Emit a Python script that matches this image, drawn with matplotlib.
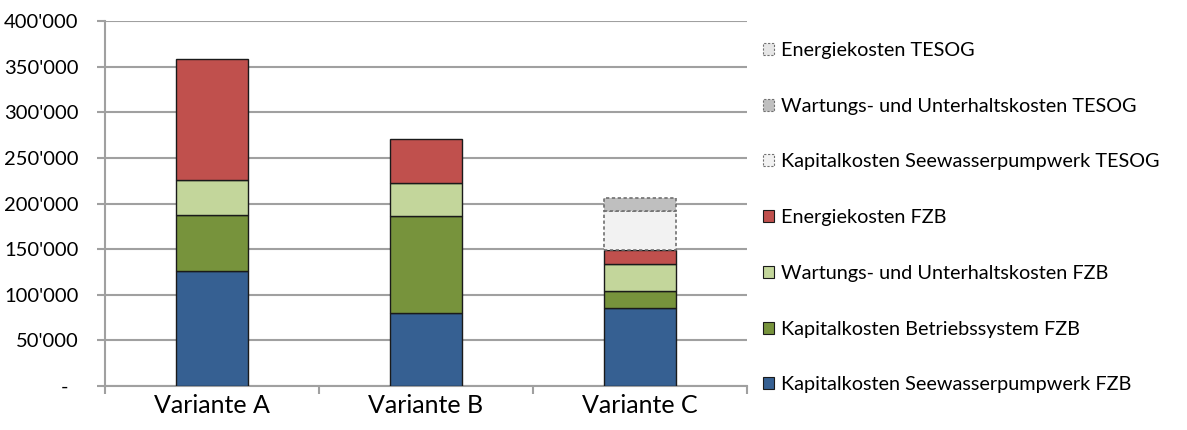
import matplotlib.pyplot as plt
import numpy as np
from matplotlib.patches import Patch
from matplotlib.ticker import FuncFormatter, FixedLocator

plt.rcParams['font.family'] = ['Lato', 'DejaVu Sans']

# data (CHF per year)
variants = ['Variante A', 'Variante B', 'Variante C']
kap_see_fzb = [126400, 79600, 85100]
kap_betrieb_fzb = [61000, 107100, 18600]
wartung_fzb = [38400, 35300, 29600]
energie_fzb = [132600, 48700, 15700]
kap_see_tesog = [0, 0, 42800]
wartung_tesog = [0, 0, 13900]
energie_tesog = [0, 0, 0]

labels = [
    'Kapitalkosten Seewasserpumpwerk FZB',
    'Kapitalkosten Betriebssystem FZB',
    'Wartungs- und Unterhaltskosten FZB',
    'Energiekosten FZB',
    'Kapitalkosten Seewasserpumpwerk TESOG',
    'Wartungs- und Unterhaltskosten TESOG',
    'Energiekosten TESOG',
]
series = [kap_see_fzb, kap_betrieb_fzb, wartung_fzb, energie_fzb,
          kap_see_tesog, wartung_tesog, energie_tesog]
colors = ['#366092', '#77933C', '#C3D69B', '#C0504D', '#F2F2F2', '#BFBFBF', '#E6E6E6']
dashed = [False, False, False, False, True, True, True]

fig = plt.figure(figsize=(11.87, 4.30), dpi=100)
ax = fig.add_axes([0.0885, 0.1023, 0.5407, 0.8487])

x = np.arange(len(variants))
bottom = np.zeros(len(variants))
handles = []
for vals, lab, col, dsh in zip(series, labels, colors, dashed):
    vals = np.array(vals, dtype=float)
    if dsh:
        ec, ls, lw = '#707070', (0, (2, 1.5)), 1.2
    else:
        ec, ls, lw = '#1a1a1a', '-', 1.0
    mask = vals > 0
    ax.bar(x[mask], vals[mask], 0.336, bottom=bottom[mask], color=col,
           edgecolor=ec, linestyle=ls, linewidth=lw, zorder=3)
    bottom += vals
    handles.append(Patch(facecolor=col, edgecolor=ec, linestyle=ls, linewidth=0.8, label=lab))

ax.set_ylim(0, 400000)
ax.set_xlim(-0.5, 2.5)
ax.yaxis.set_major_locator(FixedLocator(np.arange(0, 400001, 50000)))
ax.yaxis.set_major_formatter(FuncFormatter(
    lambda v, p: '-  ' if v == 0 else f"{int(v):,}".replace(',', "'")))
ax.yaxis.grid(True, color='#A0A0A0', linewidth=1.5, zorder=0)
ax.set_axisbelow(True)

ax.set_xticks(x)
ax.set_xticklabels(variants, fontsize=18)
ax.tick_params(axis='x', length=0, pad=6)
ax.set_xticks([-0.5, 0.5, 1.5, 2.5], minor=True)
ax.tick_params(axis='x', which='minor', length=6, width=1.5, color='#A0A0A0', direction='out')
ax.tick_params(axis='y', length=6, width=1.5, color='#A0A0A0', direction='out',
               labelsize=14.5, pad=13)

for s in ['top', 'right']:
    ax.spines[s].set_visible(False)
for s in ['left', 'bottom']:
    ax.spines[s].set_color('#A0A0A0')
    ax.spines[s].set_linewidth(1.5)

fig.legend(handles=handles[::-1], loc='upper left', bbox_to_anchor=(0.6365, 0.921),
           frameon=False, fontsize=14.3, handlelength=0.55, handleheight=0.55,
           handletextpad=0.35, labelspacing=1.95, borderaxespad=0)

fig.savefig('out.png', dpi=100)
